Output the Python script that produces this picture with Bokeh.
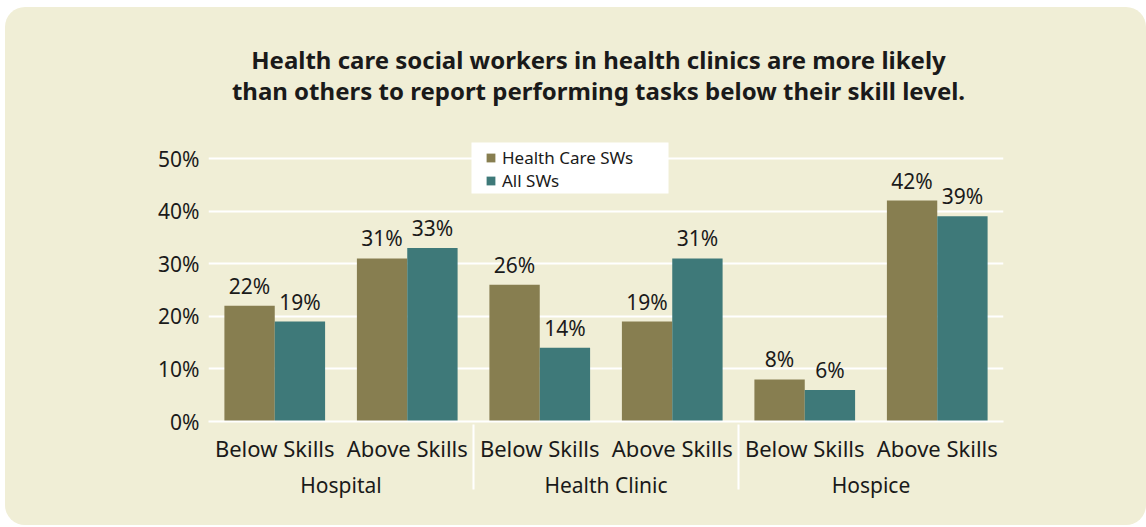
from bokeh.plotting import figure
from bokeh.models import (ColumnDataSource, FactorRange, Range1d, LabelSet, Label,
                          Legend, LegendItem, FixedTicker, BoxAnnotation)
from bokeh.core.properties import value
from bokeh.transform import dodge
from bokeh.embed import file_html
from bokeh.resources import INLINE

# ---- data ----
settings = ["Hospital", "Health Clinic", "Hospice"]
skill_levels = ["Below Skills", "Above Skills"]
health_care_sws = [22, 31, 26, 19, 8, 42]
all_sws = [19, 33, 14, 31, 6, 39]
series_names = ["Health Care SWs", "All SWs"]
y_ticks = [0, 10, 20, 30, 40, 50]
y_tick_labels = ["0%", "10%", "20%", "30%", "40%", "50%"]
title_lines = ["Health care social workers in health clinics are more likely",
               "than others to report performing tasks below their skill level."]

# ---- style ----
BG = "#f0eed6"
OLIVE = "#877e50"
TEAL = "#3e7979"
TXT = "#1a1a1a"
FONT = "Noto Sans"

factors = [(s, k) for s in settings for k in skill_levels]
src = ColumnDataSource(dict(
    x=factors,
    hc=health_care_sws,
    al=all_sws,
    hc_lbl=[f"{v}%" for v in health_care_sws],
    al_lbl=[f"{v}%" for v in all_sws],
))

x_range = FactorRange(*factors, range_padding=0, group_padding=0,
                      subgroup_padding=0, factor_padding=0)

# frame spans from the top of the figure; 50% gridline sits 151px down
p = figure(width=1141, height=518, x_range=x_range, y_range=Range1d(0, 78.71),
           output_backend="svg", toolbar_location=None,
           min_border_left=203, min_border_right=143,
           min_border_top=0, min_border_bottom=104,
           background_fill_alpha=0, border_fill_alpha=0,
           outline_line_color=None)
p.styles = {"background-color": BG, "border-radius": "20px",
            "margin-left": "5px", "margin-top": "7px"}

r1 = p.vbar(x=dodge("x", -0.19, range=p.x_range), top="hc", width=0.38,
            source=src, fill_color=OLIVE, line_color=None)
r2 = p.vbar(x=dodge("x", 0.19, range=p.x_range), top="al", width=0.38,
            source=src, fill_color=TEAL, line_color=None)

for col, ycol, off in (("hc_lbl", "hc", -0.19), ("al_lbl", "al", 0.19)):
    p.add_layout(LabelSet(x=dodge("x", off, range=p.x_range), y=ycol, text=col,
                          source=src, y_offset=12, text_align="center",
                          text_baseline="alphabetic", text_font_size="21px",
                          text_font=value(FONT), text_color=TXT))

# grid / axes
p.xgrid.grid_line_color = None
p.ygrid.grid_line_color = "white"
p.ygrid.grid_line_width = 2
p.ygrid.ticker = FixedTicker(ticks=y_ticks)

p.yaxis.ticker = FixedTicker(ticks=y_ticks)
p.yaxis.major_label_overrides = {t: l for t, l in zip(y_ticks, y_tick_labels)}
p.yaxis.axis_line_color = None
p.yaxis.major_tick_line_color = None
p.yaxis.minor_tick_line_color = None
p.yaxis.major_label_standoff = 3
p.yaxis.major_label_text_font_size = "21px"
p.yaxis.major_label_text_font = FONT
p.yaxis.major_label_text_color = TXT

xa = p.xaxis[0]
xa.axis_line_color = "white"
xa.axis_line_width = 2
xa.major_tick_line_color = None
xa.minor_tick_line_color = None
xa.major_label_standoff = 5
xa.major_label_text_font_size = "22px"
xa.major_label_text_font = FONT
xa.major_label_text_color = TXT
xa.group_text_font_size = "21px"
xa.group_text_font = FONT
xa.group_text_color = TXT
xa.group_text_font_style = "normal"
xa.separator_line_color = "white"
xa.separator_line_width = 2

# legend box + legend
p.add_layout(BoxAnnotation(left=263, right=460, bottom=228, top=279,
                           left_units="screen", right_units="screen",
                           bottom_units="screen", top_units="screen",
                           fill_color="white", fill_alpha=1, line_color=None))
legend = Legend(items=[LegendItem(label=series_names[0], renderers=[r1]),
                       LegendItem(label=series_names[1], renderers=[r2])],
                location=(277, 229), orientation="vertical",
                background_fill_alpha=0, border_line_color=None,
                padding=0, margin=0, spacing=-1,
                glyph_width=11, glyph_height=11, label_standoff=6,
                label_height=21,
                label_text_font_size="17px", label_text_font=FONT,
                label_text_color=TXT)
p.add_layout(legend)

# title
for i, line in enumerate(title_lines):
    p.add_layout(Label(x=390, y=362 - 31 * i, x_units="screen", y_units="screen",
                       text=line, text_align="center", text_baseline="alphabetic",
                       text_font_size="24px", text_font_style="bold",
                       text_font=FONT, text_color=TXT))

open("out.html", "w").write(file_html(p, INLINE))
